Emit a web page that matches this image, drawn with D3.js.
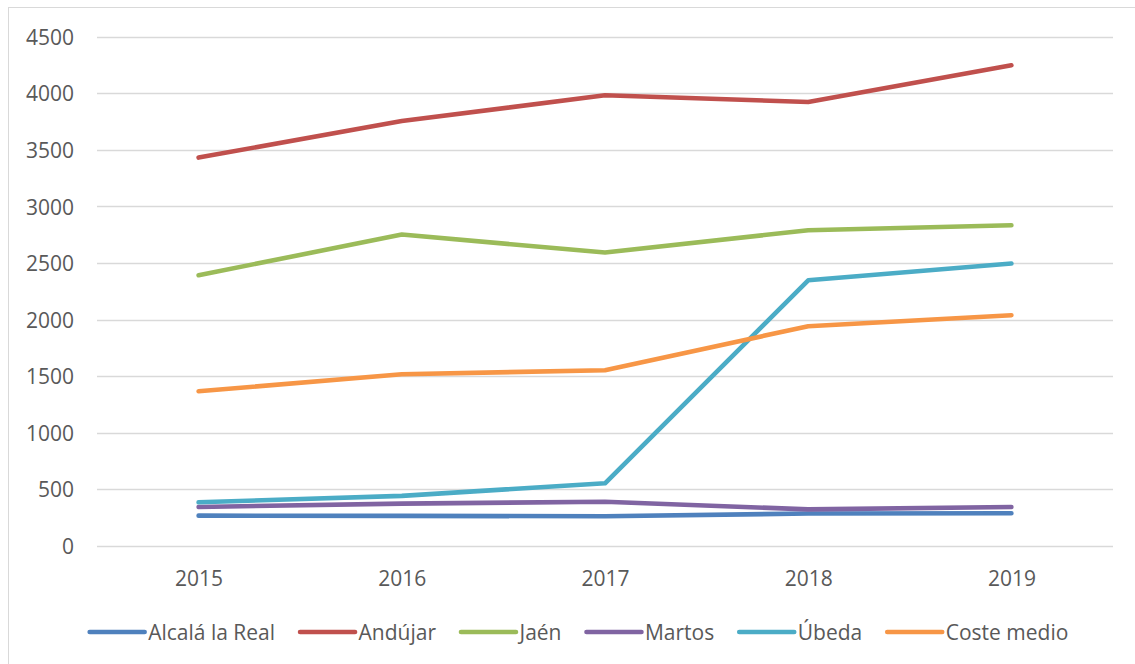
<!DOCTYPE html>
<html>
<head>
<meta charset="utf-8">
<script src="https://cdn.jsdelivr.net/npm/d3@7/dist/d3.min.js"></script>
<style>
  html, body { margin: 0; padding: 0; background: #fff; }
  svg { display: block; font-family: "Open Sans", "Noto Sans", sans-serif; }
</style>
</head>
<body>
<svg id="chart" width="1135" height="664"></svg>
<script>
// Annual cost per municipality, 2015–2019
const years = ["2015", "2016", "2017", "2018", "2019"];
const alcala = [268, 266, 263, 287, 290];
const andujar = [3432, 3755, 3982, 3923, 4247];
const jaen = [2392, 2752, 2593, 2790, 2834];
const martos = [345, 374, 391, 324, 345];
const ubeda = [386, 443, 554, 2348, 2496];
const costeMedio = [1367, 1518, 1553, 1942, 2039];
const yTicks = [0, 500, 1000, 1500, 2000, 2500, 3000, 3500, 4000, 4500];

const series = [
  { name: "Alcalá la Real", values: alcala, color: "#4f81bd" },
  { name: "Andújar", values: andujar, color: "#c0504d" },
  { name: "Jaén", values: jaen, color: "#9bbb59" },
  { name: "Martos", values: martos, color: "#8064a2" },
  { name: "Úbeda", values: ubeda, color: "#4bacc6" },
  { name: "Coste medio", values: costeMedio, color: "#f79646" }
];

const svg = d3.select("#chart");
const textColor = "#595959";
const gridColor = "#d9d9d9";
const fontSize = 21;

// chart frame
svg.append("rect")
  .attr("x", 8.5).attr("y", 7.5)
  .attr("width", 1140).attr("height", 670)
  .attr("fill", "none").attr("stroke", gridColor).attr("stroke-width", 1);

const x = d3.scalePoint().domain(years).range([97, 1113]).padding(0.5);
const y = d3.scaleLinear().domain([0, 4500]).range([546, 36.7]);

// horizontal gridlines
svg.append("g").selectAll("line").data(yTicks).join("line")
  .attr("x1", 97).attr("x2", 1113)
  .attr("y1", d => Math.round(y(d)) + 0.5).attr("y2", d => Math.round(y(d)) + 0.5)
  .attr("stroke", gridColor).attr("stroke-width", 1.3);

// y axis labels
const yAxis = d3.axisLeft(y).tickValues(yTicks).tickFormat(d3.format("d")).tickSize(0).tickPadding(0);
const gy = svg.append("g").attr("transform", "translate(74,0)").call(yAxis);
gy.select(".domain").remove();
gy.selectAll("text")
  .attr("fill", textColor).attr("font-size", fontSize)
  .attr("font-family", "'Open Sans', sans-serif")
  .attr("x", 0).attr("dy", "0.36em");

// x axis labels
const xAxis = d3.axisBottom(x).tickSize(0).tickPadding(0);
const gx = svg.append("g").attr("transform", "translate(0,546)").call(xAxis);
gx.select(".domain").remove();
gx.selectAll("text")
  .attr("fill", textColor).attr("font-size", fontSize)
  .attr("font-family", "'Open Sans', sans-serif")
  .attr("y", 40).attr("dy", 0);

// series lines
const line = d3.line()
  .x((d, i) => x(years[i]))
  .y(d => y(d));

svg.append("g").selectAll("path").data(series).join("path")
  .attr("d", d => line(d.values))
  .attr("fill", "none")
  .attr("stroke", d => d.color)
  .attr("stroke-width", 4.6)
  .attr("stroke-linecap", "round")
  .attr("stroke-linejoin", "round");

// legend
const legend = svg.append("g");
const sampleLen = 55, sampleGap = 3.5, itemGap = 25, legendY = 632;
const items = legend.selectAll("g").data(series).join("g");
items.append("line")
  .attr("x1", 0).attr("x2", sampleLen)
  .attr("y1", legendY).attr("y2", legendY)
  .attr("stroke", d => d.color).attr("stroke-width", 4.6)
  .attr("stroke-linecap", "round");
items.append("text")
  .attr("x", sampleLen + sampleGap).attr("y", 640)
  .attr("fill", textColor).attr("font-size", fontSize)
  .text(d => d.name);

let cursor = 0;
const offsets = [];
items.each(function () {
  const w = d3.select(this).select("text").node().getComputedTextLength();
  offsets.push(cursor);
  cursor += sampleLen + sampleGap + w + itemGap;
});
const total = cursor - itemGap;
const start = 579 - total / 2;
items.attr("transform", (d, i) => `translate(${start + offsets[i]},0)`);
</script>
</body>
</html>
